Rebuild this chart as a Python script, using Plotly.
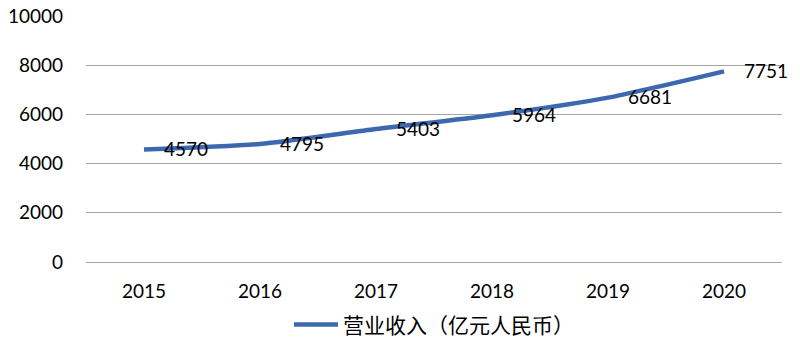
import plotly.graph_objects as go

years = ["2015", "2016", "2017", "2018", "2019", "2020"]
revenue = [4570, 4795, 5403, 5964, 6681, 7751]
series_name = "营业收入（亿元人民币）"
y_ticks = [0, 2000, 4000, 6000, 8000, 10000]

line_color = "#3D68AF"
num_font = "Lato, 'Liberation Sans', sans-serif"

fig = go.Figure()
fig.add_trace(go.Scatter(
    x=years, y=revenue, mode="lines", name=series_name,
    line=dict(color=line_color, width=4.5, shape="spline", smoothing=0.6),
))
for i, y in enumerate(revenue):
    fig.add_annotation(x=i, y=y, xref="x", yref="y", text=str(y), showarrow=False,
                       xanchor="left", yanchor="middle", xshift=18, yshift=1,
                       font=dict(family=num_font, size=19, color="#000000"))

fig.update_layout(
    width=800, height=361,
    margin=dict(l=86, r=18, t=16, b=99),
    paper_bgcolor="white", plot_bgcolor="white",
    showlegend=True,
    legend=dict(orientation="h", x=0.5, xanchor="center", y=0.1, yanchor="middle",
                yref="container",
                font=dict(family="'Noto Sans CJK SC', sans-serif", size=21, color="#000"),
                itemwidth=44),
    xaxis=dict(type="category", range=[-0.5, 5.5], showgrid=False, showline=False,
               zeroline=False, ticks="", ticklabelstandoff=16, automargin=False,
               tickfont=dict(family=num_font, size=19, color="#000")),
    yaxis=dict(range=[0, 10000], tickvals=y_ticks, ticktext=[str(v) for v in y_ticks],
               showgrid=True, gridcolor="#A6A6A6",
               gridwidth=1, zeroline=True, zerolinecolor="#A6A6A6", zerolinewidth=1,
               showline=False, ticks="", ticklabelstandoff=22, automargin=False,
               tickfont=dict(family=num_font, size=19, color="#000")),
)

fig.write_html("out.html")
